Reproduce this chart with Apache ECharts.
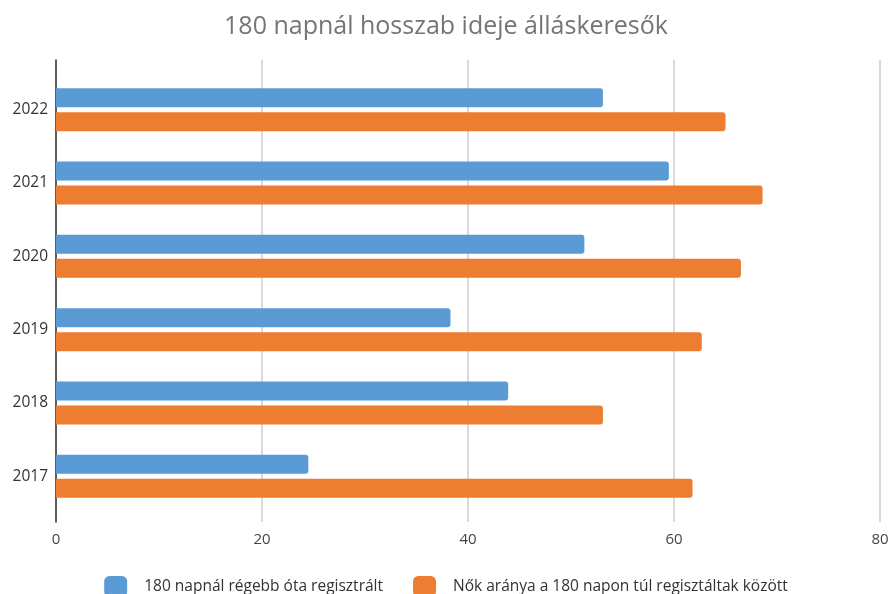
<!DOCTYPE html>
<html>
<head>
<meta charset="utf-8">
<script src="https://cdn.jsdelivr.net/npm/echarts@6/dist/echarts.min.js"></script>
<style>
  html, body { margin: 0; padding: 0; background: #fff; }
  #chart { width: 892px; height: 594px; }
</style>
</head>
<body>
<div id="chart"></div>
<script>
const years = ["2022", "2021", "2020", "2019", "2018", "2017"];
const longTerm = [53.1, 59.5, 51.3, 38.3, 43.9, 24.5];
const womenShare = [65.0, 68.6, 66.5, 62.7, 53.1, 61.8];
const seriesNames = ["180 napnál régebb óta regisztrált", "Nők aránya a 180 napon túl regisztáltak között"];

const font = "'Open Sans', 'DejaVu Sans', sans-serif";
const chart = echarts.init(document.getElementById("chart"), null, { renderer: "canvas" });
chart.setOption({
  animation: false,
  color: ["#5B9BD5", "#ED7D31"],
  title: {
    text: "180 napnál hosszab ideje álláskeresők",
    left: "center",
    top: 9,
    textStyle: { fontFamily: font, fontSize: 25, fontWeight: "normal", color: "#757575" }
  },
  legend: {
    top: 571,
    left: "center",
    itemWidth: 23,
    itemHeight: 21,
    itemGap: 30,
    icon: "roundRect",
    textStyle: { fontFamily: font, fontSize: 15.5, color: "#333", padding: [0, 0, 0, 12] },
    data: seriesNames
  },
  // grid 0 holds the bars, grid 1 only draws the full-height frame (gridlines + axis line)
  grid: [
    { left: 56, right: 12, top: 73, bottom: 81 },
    { left: 56, right: 12, top: 60, bottom: 72 }
  ],
  xAxis: [
    { type: "value", gridIndex: 0, min: 0, max: 80, interval: 20, show: false },
    {
      type: "value", gridIndex: 1, min: 0, max: 80, interval: 20,
      axisLine: { show: false },
      axisTick: { show: false },
      axisLabel: { fontFamily: font, fontSize: 15, color: "#444", margin: 10 },
      splitLine: { lineStyle: { color: "#cccccc", width: 1.5 } }
    }
  ],
  yAxis: [
    {
      type: "category", gridIndex: 0, inverse: true, data: years,
      axisLine: { show: false },
      axisTick: { show: false },
      axisLabel: { fontFamily: font, fontSize: 15.5, color: "#333", margin: 8 }
    },
    {
      type: "value", gridIndex: 1, min: 0, max: 1,
      axisLine: { show: true, lineStyle: { color: "#333", width: 1.5 } },
      axisTick: { show: false },
      axisLabel: { show: false },
      splitLine: { show: false }
    }
  ],
  series: [
    { name: seriesNames[0], type: "bar", data: longTerm, barWidth: 19, barGap: "26%", z: 3,
      itemStyle: { borderRadius: [0, 3, 3, 0] } },
    { name: seriesNames[1], type: "bar", data: womenShare, barWidth: 19, barGap: "26%", z: 3,
      itemStyle: { borderRadius: [0, 3, 3, 0] } }
  ]
});
</script>
</body>
</html>
